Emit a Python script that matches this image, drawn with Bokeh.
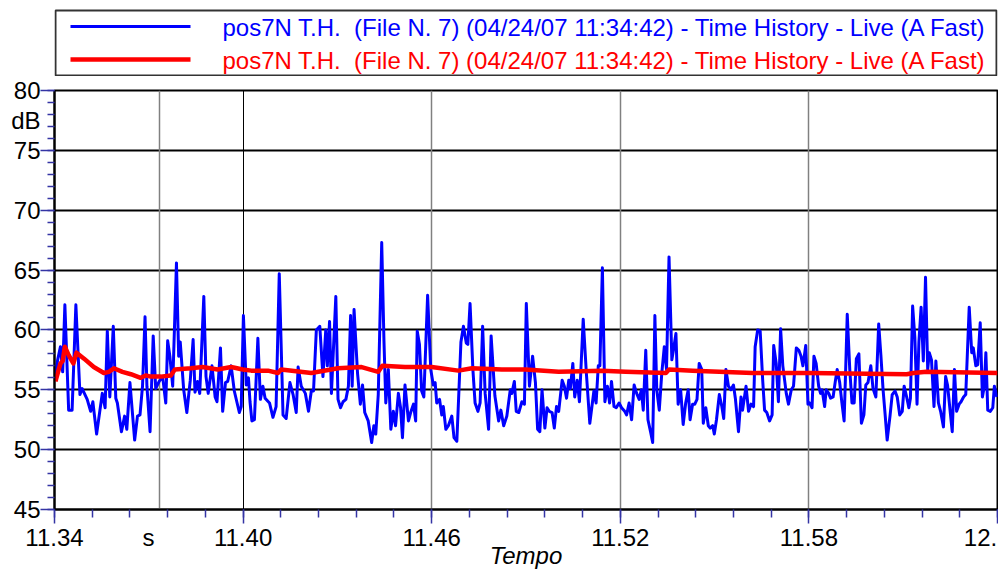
from bokeh.plotting import figure
from bokeh.models import Range1d, FixedTicker, Grid, LinearAxis
from bokeh.layouts import column
from bokeh.embed import file_html
from bokeh.resources import INLINE
from bokeh.core.properties import value

FONT = "Liberation Sans"

# ---------------- data ----------------
series_names = [
    "pos7N T.H.\u00a0 (File N. 7) (04/24/07 11:34:42) - Time History - Live (A Fast)",
    "pos7N T.H.\u00a0 (File N. 7) (04/24/07 11:34:42) - Time History - Live (A Fast)",
]
series_colors = ["#0000ff", "#ff0000"]

blue_t = [
    11.3403, 11.3410, 11.3419, 11.3426, 11.3433, 11.3445, 11.3456, 11.3468, 11.3481, 11.3488,
    11.3504, 11.3515, 11.3522, 11.3534, 11.3552, 11.3561, 11.3568, 11.3576, 11.3587, 11.3595,
    11.3600, 11.3613, 11.3623, 11.3630, 11.3640, 11.3655, 11.3664, 11.3672, 11.3680, 11.3688,
    11.3694, 11.3704, 11.3714, 11.3722, 11.3733, 11.3744, 11.3754, 11.3760, 11.3767, 11.3776,
    11.3788, 11.3795, 11.3800, 11.3811, 11.3821, 11.3832, 11.3841, 11.3847, 11.3855, 11.3862,
    11.3875, 11.3882, 11.3889, 11.3901, 11.3911, 11.3917, 11.3928, 11.3935, 11.3944, 11.3951,
    11.3962, 11.3972, 11.3980, 11.3988, 11.3994, 11.4001, 11.4010, 11.4017, 11.4022, 11.4028,
    11.4036, 11.4047, 11.4055, 11.4063, 11.4070, 11.4084, 11.4095, 11.4105, 11.4115, 11.4127,
    11.4137, 11.4149, 11.4159, 11.4169, 11.4175, 11.4185, 11.4198, 11.4208, 11.4217, 11.4224,
    11.4233, 11.4244, 11.4254, 11.4263, 11.4268, 11.4275, 11.4281, 11.4295, 11.4302, 11.4310,
    11.4318, 11.4327, 11.4335, 11.4342, 11.4347, 11.4353, 11.4364, 11.4373, 11.4380, 11.4387,
    11.4398, 11.4409, 11.4416, 11.4422, 11.4430, 11.4441, 11.4448, 11.4454, 11.4462, 11.4470,
    11.4478, 11.4485, 11.4494, 11.4501, 11.4507, 11.4515, 11.4526, 11.4533, 11.4542, 11.4549,
    11.4554, 11.4561, 11.4568, 11.4575, 11.4587, 11.4597, 11.4605, 11.4611, 11.4616, 11.4625,
    11.4632, 11.4637, 11.4645, 11.4653, 11.4664, 11.4671, 11.4680, 11.4693, 11.4701, 11.4710,
    11.4715, 11.4722, 11.4731, 11.4738, 11.4747, 11.4754, 11.4762, 11.4770, 11.4781, 11.4789,
    11.4801, 11.4813, 11.4820, 11.4829, 11.4839, 11.4850, 11.4855, 11.4863, 11.4869, 11.4877,
    11.4887, 11.4895, 11.4901, 11.4911, 11.4921, 11.4930, 11.4937, 11.4944, 11.4951, 11.4960,
    11.4967, 11.4974, 11.4983, 11.4990, 11.4997, 11.5004, 11.5015, 11.5022, 11.5029, 11.5036,
    11.5041, 11.5049, 11.5055, 11.5063, 11.5070, 11.5082, 11.5092, 11.5103, 11.5116, 11.5123,
    11.5130, 11.5135, 11.5143, 11.5151, 11.5159, 11.5166, 11.5172, 11.5180, 11.5187, 11.5196,
    11.5204, 11.5214, 11.5220, 11.5228, 11.5236, 11.5244, 11.5252, 11.5260, 11.5267, 11.5273,
    11.5281, 11.5288, 11.5297, 11.5303, 11.5310, 11.5316, 11.5324, 11.5332, 11.5340, 11.5347,
    11.5355, 11.5364, 11.5369, 11.5377, 11.5384, 11.5392, 11.5400, 11.5408, 11.5416, 11.5422,
    11.5430, 11.5437, 11.5444, 11.5451, 11.5459, 11.5464, 11.5472, 11.5480, 11.5486, 11.5494,
    11.5499, 11.5506, 11.5515, 11.5523, 11.5529, 11.5536, 11.5544, 11.5552, 11.5560, 11.5566,
    11.5576, 11.5584, 11.5589, 11.5600, 11.5608, 11.5616, 11.5624, 11.5629, 11.5637, 11.5645,
    11.5653, 11.5659, 11.5666, 11.5675, 11.5683, 11.5688, 11.5696, 11.5703, 11.5710, 11.5717,
    11.5728, 11.5735, 11.5744, 11.5751, 11.5760, 11.5768, 11.5775, 11.5781, 11.5790, 11.5797,
    11.5802, 11.5810, 11.5816, 11.5823, 11.5831, 11.5837, 11.5842, 11.5850, 11.5855, 11.5863,
    11.5869, 11.5877, 11.5884, 11.5890, 11.5898, 11.5905, 11.5912, 11.5917, 11.5922, 11.5930,
    11.5937, 11.5944, 11.5951, 11.5959, 11.5967, 11.5975, 11.5981, 11.5988, 11.5997, 11.6004,
    11.6013, 11.6022, 11.6029, 11.6036, 11.6042, 11.6049, 11.6058, 11.6065, 11.6074, 11.6081,
    11.6089, 11.6097, 11.6103, 11.6111, 11.6118, 11.6123, 11.6130, 11.6137, 11.6144, 11.6150,
    11.6157, 11.6164, 11.6171, 11.6178, 11.6183, 11.6190, 11.6198, 11.6204, 11.6212, 11.6219,
    11.6228, 11.6235, 11.6241, 11.6249, 11.6256, 11.6263, 11.6270, 11.6278, 11.6284, 11.6292,
    11.6299, 11.6310, 11.6318, 11.6323, 11.6331, 11.6337, 11.6345, 11.6352, 11.6358, 11.6363,
    11.6369, 11.6377, 11.6385, 11.6390, 11.6398,
]
blue_db = [
    56.2, 57.5, 58.6, 56.5, 62.1, 53.3, 53.3, 62.1, 54.6, 55.1,
    54.2, 53.2, 54.0, 51.3, 54.7, 53.5, 59.9, 54.4, 60.3, 54.3,
    53.9, 51.5, 52.8, 51.7, 55.6, 50.8, 52.8, 52.9, 55.3, 61.1,
    55.3, 51.5, 59.5, 55.1, 55.7, 56.1, 53.9, 59.1, 57.8, 55.3,
    65.6, 57.8, 59.0, 55.0, 53.1, 55.8, 59.2, 54.8, 55.7, 54.7,
    62.8, 56.1, 54.7, 57.0, 54.4, 54.0, 58.5, 53.2, 55.6, 55.7,
    57.0, 54.9, 54.0, 53.1, 53.6, 61.2, 55.4, 56.0, 54.0, 52.4,
    52.5, 59.3, 54.2, 55.3, 54.3, 53.9, 52.7, 53.6, 64.7, 52.9,
    52.6, 55.6, 54.6, 53.1, 56.9, 55.3, 54.7, 53.2, 54.9, 54.9,
    60.0, 60.3, 56.1, 60.0, 57.0, 60.7, 54.7, 62.8, 54.2, 53.5,
    54.0, 54.2, 55.3, 61.2, 55.3, 61.7, 56.4, 53.8, 55.4, 53.1,
    52.4, 50.6, 52.0, 51.3, 54.6, 67.3, 59.2, 53.9, 56.7, 51.7,
    53.2, 52.0, 54.7, 53.5, 51.0, 55.4, 52.4, 53.1, 53.8, 52.4,
    59.9, 58.8, 54.9, 54.4, 62.9, 56.7, 55.4, 55.6, 53.9, 54.2,
    52.9, 53.6, 51.7, 52.0, 52.8, 51.0, 50.7, 59.0, 60.3, 58.9,
    58.8, 62.2, 56.7, 53.9, 53.2, 53.9, 60.3, 54.7, 51.7, 59.5,
    54.5, 52.4, 53.3, 52.0, 52.8, 55.0, 54.7, 55.7, 53.2, 53.1,
    54.0, 53.8, 62.2, 55.3, 57.8, 55.6, 51.7, 51.5, 55.0, 51.8,
    53.5, 53.2, 53.1, 51.8, 53.6, 53.2, 55.8, 55.3, 54.3, 55.8,
    55.1, 57.2, 54.4, 55.8, 54.0, 60.9, 56.4, 52.2, 54.9, 53.9,
    57.0, 57.0, 65.2, 54.0, 55.3, 53.9, 55.7, 53.6, 53.5, 53.9,
    53.5, 53.2, 52.9, 53.9, 52.5, 55.4, 54.7, 54.2, 55.0, 53.3,
    58.3, 52.5, 51.4, 50.6, 61.2, 55.0, 53.3, 56.4, 58.6, 56.7,
    66.1, 57.5, 58.3, 59.7, 53.8, 55.0, 52.1, 53.9, 55.0, 52.5,
    53.8, 53.8, 54.2, 57.2, 56.7, 52.2, 53.5, 52.0, 51.8, 52.0,
    51.3, 52.5, 54.6, 53.6, 52.6, 56.7, 55.3, 55.0, 55.4, 54.3,
    51.5, 54.4, 53.3, 55.3, 53.2, 53.8, 53.6, 58.6, 60.0, 59.9,
    55.8, 53.3, 53.1, 52.4, 52.9, 58.7, 57.2, 54.0, 60.1, 57.0,
    54.7, 53.8, 55.0, 55.3, 58.5, 58.3, 57.8, 57.0, 58.7, 53.8,
    53.9, 53.5, 57.8, 57.2, 55.3, 54.7, 55.0, 53.6, 55.0, 54.7,
    54.3, 54.4, 55.7, 56.7, 55.6, 53.9, 52.4, 56.7, 61.3, 56.7,
    53.9, 53.9, 57.6, 58.0, 52.2, 52.9, 55.4, 55.6, 57.0, 55.1,
    54.4, 60.5, 57.9, 55.0, 53.1, 50.8, 52.8, 54.6, 54.9, 54.4,
    52.9, 53.2, 55.3, 54.4, 53.5, 54.3, 62.0, 59.4, 53.8, 59.0,
    61.9, 57.4, 64.4, 56.7, 58.1, 57.5, 53.6, 57.4, 53.9, 53.2,
    51.9, 56.1, 55.4, 53.3, 51.5, 56.7, 53.2, 53.8, 54.0, 54.4,
    54.6, 61.9, 58.1, 58.5, 57.0, 57.1, 60.6, 54.4, 55.3, 58.1,
    53.3, 53.2, 53.5, 55.3, 54.4,
]

red_t = [
    11.3403, 11.3419, 11.3426, 11.3433, 11.3445, 11.3460, 11.3470, 11.3494, 11.3525, 11.3557,
    11.3573, 11.3589, 11.3616, 11.3643, 11.3674, 11.3690, 11.3706, 11.3738, 11.3770, 11.3783,
    11.3834, 11.3871, 11.3919, 11.3962, 11.3999, 11.4026, 11.4079, 11.4111, 11.4121, 11.4217,
    11.4302, 11.4377, 11.4430, 11.4443, 11.4515, 11.4600, 11.4685, 11.4728, 11.4823, 11.4898,
    11.5004, 11.5143, 11.5217, 11.5345, 11.5355, 11.5430, 11.5621, 11.5802, 11.6111, 11.6132,
    11.6174, 11.6400,
]
red_db = [
    55.7, 57.2, 57.4, 58.6, 57.9, 57.2, 58.1, 57.6, 56.9, 56.4,
    56.5, 56.8, 56.5, 56.3, 56.0, 56.2, 56.1, 56.1, 56.2, 56.7,
    56.8, 56.9, 56.7, 56.9, 56.7, 56.6, 56.6, 56.4, 56.7, 56.4,
    56.8, 56.9, 56.5, 57.0, 56.9, 56.9, 56.6, 56.8, 56.7, 56.7,
    56.5, 56.6, 56.5, 56.4, 56.7, 56.6, 56.4, 56.4, 56.3, 56.4,
    56.5, 56.4,
]

y_ticks = [45, 50, 55, 60, 65, 70, 75, 80]
y_minor = list(range(45, 81))
y_grid = [50, 55, 60, 65, 70, 75]
y_label_pos = [45, 50, 55, 60, 65, 70, 75, 77.5, 80]
y_label_text = ["45", "50", "55", "60", "65", "70", "75", "dB", "80"]
x_ticks = [11.34, 11.40, 11.46, 11.52, 11.58, 11.64]
x_minor = [round(11.34 + 0.012 * i, 3) for i in range(26)]
x_label_pos = [11.34, 11.3699, 11.40, 11.46, 11.52, 11.58, 11.6346]
x_label_text = ["11.34", "s", "11.40", "11.46", "11.52", "11.58", "12."]
x_grid_gray = [11.3735, 11.46, 11.52, 11.58]
x_grid_black = [11.40]
x_title = "Tempo"

n = min(len(blue_t), len(blue_db))
blue_t, blue_db = blue_t[:n], blue_db[:n]

W = 998
LEFT, RIGHT = 54, 1
LEG_H = 76
MAIN_H = 571 - LEG_H
TOP = 90 - LEG_H
TICK = "#3434a4"

# ---------------- legend strip (x/y in page pixels) ----------------
leg = figure(width=W, height=LEG_H, x_range=Range1d(LEFT, W - RIGHT), y_range=Range1d(LEG_H, 0),
             output_backend="svg", toolbar_location=None,
             x_axis_location=None, y_axis_location=None,
             min_border_left=LEFT, min_border_right=RIGHT, min_border_top=0, min_border_bottom=0)
leg.grid.visible = False
leg.outline_line_color = None
leg.quad(left=[55], right=[996], top=[10], bottom=[75], fill_color=None,
         line_color="#333333", line_width=2)
rows_y = [26, 59]
widths = [3, 4.5]
for name, col, yy, lw in zip(series_names, series_colors, rows_y, widths):
    leg.line([70, 190], [yy, yy], line_color=col, line_width=lw)
    leg.text(x=[222], y=[yy + 1], text=[name], text_color=col,
             text_font=value(FONT), text_font_size="24px", text_baseline="middle")

# ---------------- main plot ----------------
p = figure(width=W, height=MAIN_H, x_range=Range1d(11.34, 11.64), y_range=Range1d(45, 80),
           output_backend="svg", toolbar_location=None,
           x_axis_location=None, y_axis_location=None,
           min_border_left=LEFT, min_border_right=RIGHT, min_border_top=TOP,
           min_border_bottom=MAIN_H - TOP - 420)
p.outline_line_color = "black"
p.outline_line_width = 2
p.grid.visible = False

p.add_layout(Grid(dimension=1, ticker=FixedTicker(ticks=y_grid),
                  grid_line_color="black", grid_line_width=2))
p.add_layout(Grid(dimension=0, ticker=FixedTicker(ticks=x_grid_gray),
                  grid_line_color="#808080", grid_line_width=1.5))
p.add_layout(Grid(dimension=0, ticker=FixedTicker(ticks=x_grid_black),
                  grid_line_color="black", grid_line_width=1))


def tick_axis(ticks, minor, major_out, minor_out):
    return LinearAxis(
        ticker=FixedTicker(ticks=ticks, minor_ticks=minor),
        axis_line_color="black", axis_line_width=2,
        major_tick_line_color=TICK, minor_tick_line_color=TICK,
        major_tick_line_width=1.5, minor_tick_line_width=1.5,
        major_tick_in=0, minor_tick_in=0,
        major_tick_out=major_out, minor_tick_out=minor_out,
        major_label_overrides={t: "" for t in ticks},
        major_label_text_font_size="0px", major_label_standoff=0,
    )


def label_axis(pos, texts, **kw):
    return LinearAxis(
        ticker=FixedTicker(ticks=pos),
        major_label_overrides=dict(zip(pos, texts)),
        axis_line_color=None, major_tick_line_color=None, minor_tick_line_color=None,
        major_tick_in=0, major_tick_out=0, minor_tick_in=0, minor_tick_out=0,
        major_label_text_font=FONT, major_label_text_font_size="24px",
        major_label_text_color="black", major_label_standoff=0, **kw,
    )


p.add_layout(tick_axis(y_ticks, y_minor, 14, 7), "left")
p.add_layout(label_axis(y_label_pos, y_label_text), "left")
p.add_layout(tick_axis(x_ticks, x_minor, 14, 8), "below")
p.add_layout(label_axis(x_label_pos, x_label_text, axis_label=x_title,
                        axis_label_text_font=FONT, axis_label_text_font_size="24px",
                        axis_label_text_font_style="italic", axis_label_text_color="black",
                        axis_label_standoff=-12), "below")

p.line(blue_t, blue_db, line_color=series_colors[0], line_width=3, line_join="round")
p.line(red_t, red_db, line_color=series_colors[1], line_width=4.5, line_join="round")

layout = column(leg, p, spacing=0)
open("out.html", "w").write(file_html(layout, INLINE))
